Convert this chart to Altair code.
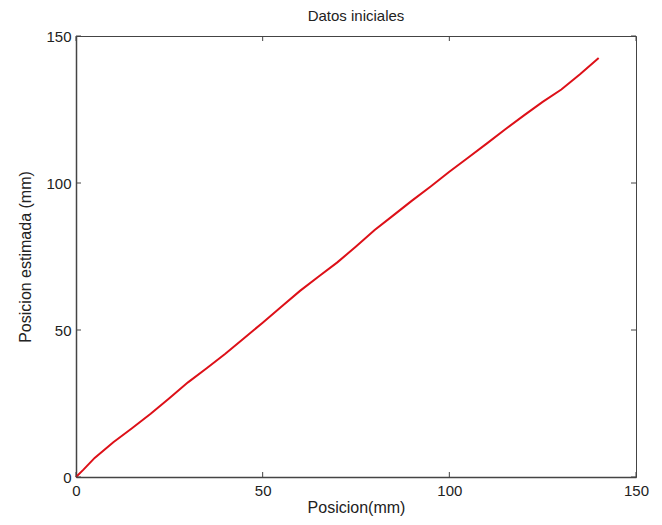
import altair as alt
import pandas as pd

# Data
pos_x = [0, 2, 5, 10, 15, 20, 25, 30, 35, 40, 45, 50, 55, 60, 65, 70, 75, 80,
         85, 90, 95, 100, 105, 110, 115, 120, 125, 130, 135, 140]
pos_y = [0, 2.5, 6.5, 11.8, 16.6, 21.5, 26.8, 32.2, 37.0, 41.9, 47.2, 52.5,
         57.9, 63.3, 68.2, 73.0, 78.4, 84.0, 89.0, 94.0, 98.8, 103.8, 108.6,
         113.4, 118.3, 123.0, 127.6, 131.8, 137.0, 142.5]
tick_values = [0, 50, 100, 150]

W, H = 560, 441
FONT = "Liberation Sans"
AXIS_COLOR = "#444444"
TEXT_COLOR = "#222222"
TICK_LEN = 5

df = pd.DataFrame({"x": pos_x, "y": pos_y})
ticks = pd.DataFrame({"t": tick_values})

xscale = alt.Scale(domain=[0, 150], nice=False, zero=False)
yscale = alt.Scale(domain=[0, 150], nice=False, zero=False)

common_axis = dict(
    values=tick_values, tickSize=0, domain=True, labelFlush=False,
    domainColor=AXIS_COLOR, domainWidth=1.5, grid=False, labelFont=FONT,
    labelFontSize=15, labelColor=TEXT_COLOR, titleFont=FONT, titleFontSize=16,
    titleFontWeight="normal", titleColor=TEXT_COLOR,
)
x_axis = alt.Axis(title="Posicion(mm)", titlePadding=1, labelPadding=6,
                  **common_axis)
y_axis = alt.Axis(title="Posicion estimada (mm)", titlePadding=12,
                  labelPadding=5, **common_axis)

line = alt.Chart(df).mark_line(color="#dd1018", strokeWidth=2).encode(
    x=alt.X("x:Q", scale=xscale, axis=x_axis),
    y=alt.Y("y:Q", scale=yscale, axis=y_axis),
)

bottom_ticks = alt.Chart(ticks).mark_rule(color=AXIS_COLOR).encode(
    x=alt.X("t:Q", scale=xscale, axis=x_axis),
    y=alt.value(H), y2=alt.value(H - TICK_LEN),
)
top_ticks = alt.Chart(ticks).mark_rule(color=AXIS_COLOR).encode(
    x=alt.X("t:Q", scale=xscale, axis=x_axis),
    y=alt.value(0), y2=alt.value(TICK_LEN),
)
left_ticks = alt.Chart(ticks).mark_rule(color=AXIS_COLOR).encode(
    y=alt.Y("t:Q", scale=yscale, axis=y_axis),
    x=alt.value(0), x2=alt.value(TICK_LEN),
)
right_ticks = alt.Chart(ticks).mark_rule(color=AXIS_COLOR).encode(
    y=alt.Y("t:Q", scale=yscale, axis=y_axis),
    x=alt.value(W), x2=alt.value(W - TICK_LEN),
)

chart = alt.layer(line, bottom_ticks, top_ticks, left_ticks, right_ticks).properties(
    width=W, height=H,
    title=alt.TitleParams("Datos iniciales", font=FONT, fontSize=15,
                          fontWeight="normal", color=TEXT_COLOR, offset=5),
    autosize=alt.AutoSizeParams(type="none"),
    padding={"left": 68, "top": 28, "right": 18, "bottom": 40},
).configure(
    background="white",
    view=alt.ViewConfig(stroke=AXIS_COLOR, strokeWidth=1),
)

chart.save("out.html", embed_options={"renderer": "svg", "actions": False})
